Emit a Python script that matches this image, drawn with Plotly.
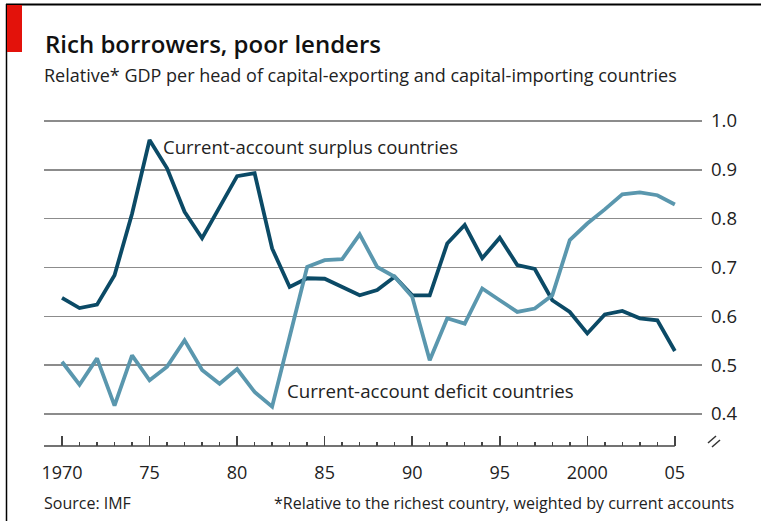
import plotly.graph_objects as go

years = [1970, 1971, 1972, 1973, 1974, 1975, 1976, 1977, 1978, 1979,
         1980, 1981, 1982, 1983, 1984, 1985, 1986, 1987, 1988, 1989,
         1990, 1991, 1992, 1993, 1994, 1995, 1996, 1997, 1998, 1999,
         2000, 2001, 2002, 2003, 2004, 2005]

surplus = [0.638, 0.617, 0.624, 0.684, 0.810, 0.961, 0.903, 0.814, 0.760, 0.824,
           0.887, 0.893, 0.739, 0.660, 0.678, 0.677, 0.660, 0.643, 0.654, 0.681,
           0.643, 0.643, 0.749, 0.787, 0.719, 0.761, 0.705, 0.697, 0.633, 0.609,
           0.565, 0.604, 0.611, 0.596, 0.592, 0.529]

deficit = [0.507, 0.460, 0.514, 0.417, 0.520, 0.469, 0.497, 0.551, 0.490, 0.462,
           0.492, 0.445, 0.415, 0.558, 0.701, 0.715, 0.717, 0.768, 0.701, 0.681,
           0.640, 0.510, 0.596, 0.585, 0.657, 0.633, 0.609, 0.616, 0.643, 0.756,
           0.790, 0.819, 0.850, 0.854, 0.848, 0.829]

x_tickvals = [1970, 1975, 1980, 1985, 1990, 1995, 2000, 2005]
x_ticktext = ["1970", "75", "80", "85", "90", "95", "2000", "05"]
y_tickvals = [0.4, 0.5, 0.6, 0.7, 0.8, 0.9, 1.0]

title = "Rich borrowers, poor lenders"
subtitle = "Relative* GDP per head of capital-exporting and capital-importing countries"
label_surplus = "Current-account surplus countries"
label_deficit = "Current-account deficit countries"
source = "Source: IMF"
footnote = "*Relative to the richest country, weighted by current accounts"

DARK = "#0b4a66"
LIGHT = "#5a97ae"
FONT = "Open Sans"

W, H = 761, 521
L, R, T, B = 44, 702, 110, 446  # plot area in pixels


def px(x):
    return (x - L) / (R - L)


def py(y):
    return (B - y) / (B - T)


fig = go.Figure()
fig.add_trace(go.Scatter(x=years, y=surplus, mode="lines",
                         line=dict(color=DARK, width=3.8), hoverinfo="skip"))
fig.add_trace(go.Scatter(x=years, y=deficit, mode="lines",
                         line=dict(color=LIGHT, width=3.8), hoverinfo="skip"))

x0 = 1970 - 18 / 17.51
x1 = x0 + (R - L) / 17.51
ybot = 0.4 - (B - 414) / 488.3
ytop = 1.0 + (121 - T) / 488.3

fig.update_layout(
    width=W, height=H,
    margin=dict(l=L, r=W - R, t=T, b=H - B),
    paper_bgcolor="white", plot_bgcolor="white",
    showlegend=False,
    font=dict(family=FONT, color="#222222"),
    xaxis=dict(range=[x0, x1], showgrid=False, zeroline=False, showline=False,
               tickvals=x_tickvals, ticktext=x_ticktext,
               ticks="inside", ticklen=10, tickwidth=1.5, tickcolor="#444444",
               minor=dict(tickvals=years, ticks="inside", ticklen=4,
                          tickwidth=1.5, tickcolor="#444444"),
               tickfont=dict(size=18, color="#222222"),
               ticklabelstandoff=14, fixedrange=True),
    yaxis=dict(range=[ybot, ytop], side="right", tickvals=y_tickvals,
               tickformat=".1f", showgrid=True, gridcolor="#8c8c8c", gridwidth=1.6,
               zeroline=False, showline=False, ticks="",
               tickfont=dict(size=18.5, color="#222222"),
               ticklabelstandoff=8, fixedrange=True),
)

shapes = []
shapes.append(dict(type="line", xref="x", yref="paper", x0=x0, x1=2005,
                   y0=0, y1=0, line=dict(color="#444444", width=1.6)))
shapes.append(dict(type="line", xref="paper", yref="paper",
                   x0=px(6), x1=px(W), y0=py(4.5), y1=py(4.5),
                   line=dict(color="black", width=2)))
shapes.append(dict(type="line", xref="paper", yref="paper",
                   x0=px(6.5), x1=px(6.5), y0=py(4), y1=py(H),
                   line=dict(color="black", width=1.5)))
shapes.append(dict(type="rect", xref="paper", yref="paper",
                   x0=px(7), x1=px(22), y0=py(52), y1=py(5),
                   fillcolor="#e3120b", line=dict(width=0)))
shapes.append(dict(type="line", xref="paper", yref="paper",
                   x0=px(708), x1=px(716), y0=py(443), y1=py(436),
                   line=dict(color="#333333", width=1.5)))
shapes.append(dict(type="line", xref="paper", yref="paper",
                   x0=px(712), x1=px(720), y0=py(447), y1=py(440),
                   line=dict(color="#333333", width=1.5)))
fig.update_layout(shapes=shapes)

ann = [
    dict(text=title, x=px(43), y=py(43),
         font=dict(size=24, color="#111111", family=FONT, weight=600),
         xanchor="left"),
    dict(text=subtitle, x=px(42), y=py(75), font=dict(size=18, color="#222222"),
         xanchor="left"),
    dict(text=label_surplus, x=px(161), y=py(146), font=dict(size=18.5, color="#222222"),
         xanchor="left"),
    dict(text=label_deficit, x=px(285), y=py(390), font=dict(size=18.7, color="#222222"),
         xanchor="left"),
    dict(text=source, x=px(42), y=py(503), font=dict(size=16, color="#222222"),
         xanchor="left"),
    dict(text=footnote, x=px(736), y=py(503), font=dict(size=16, color="#222222"),
         xanchor="right"),
]
for a in ann:
    a.update(xref="paper", yref="paper", yanchor="middle", showarrow=False)
fig.update_layout(annotations=ann)

fig.write_html("out.html", config={"displayModeBar": False, "staticPlot": True},
               post_script="document.body.style.margin='0px';document.body.style.overflow='hidden';")
